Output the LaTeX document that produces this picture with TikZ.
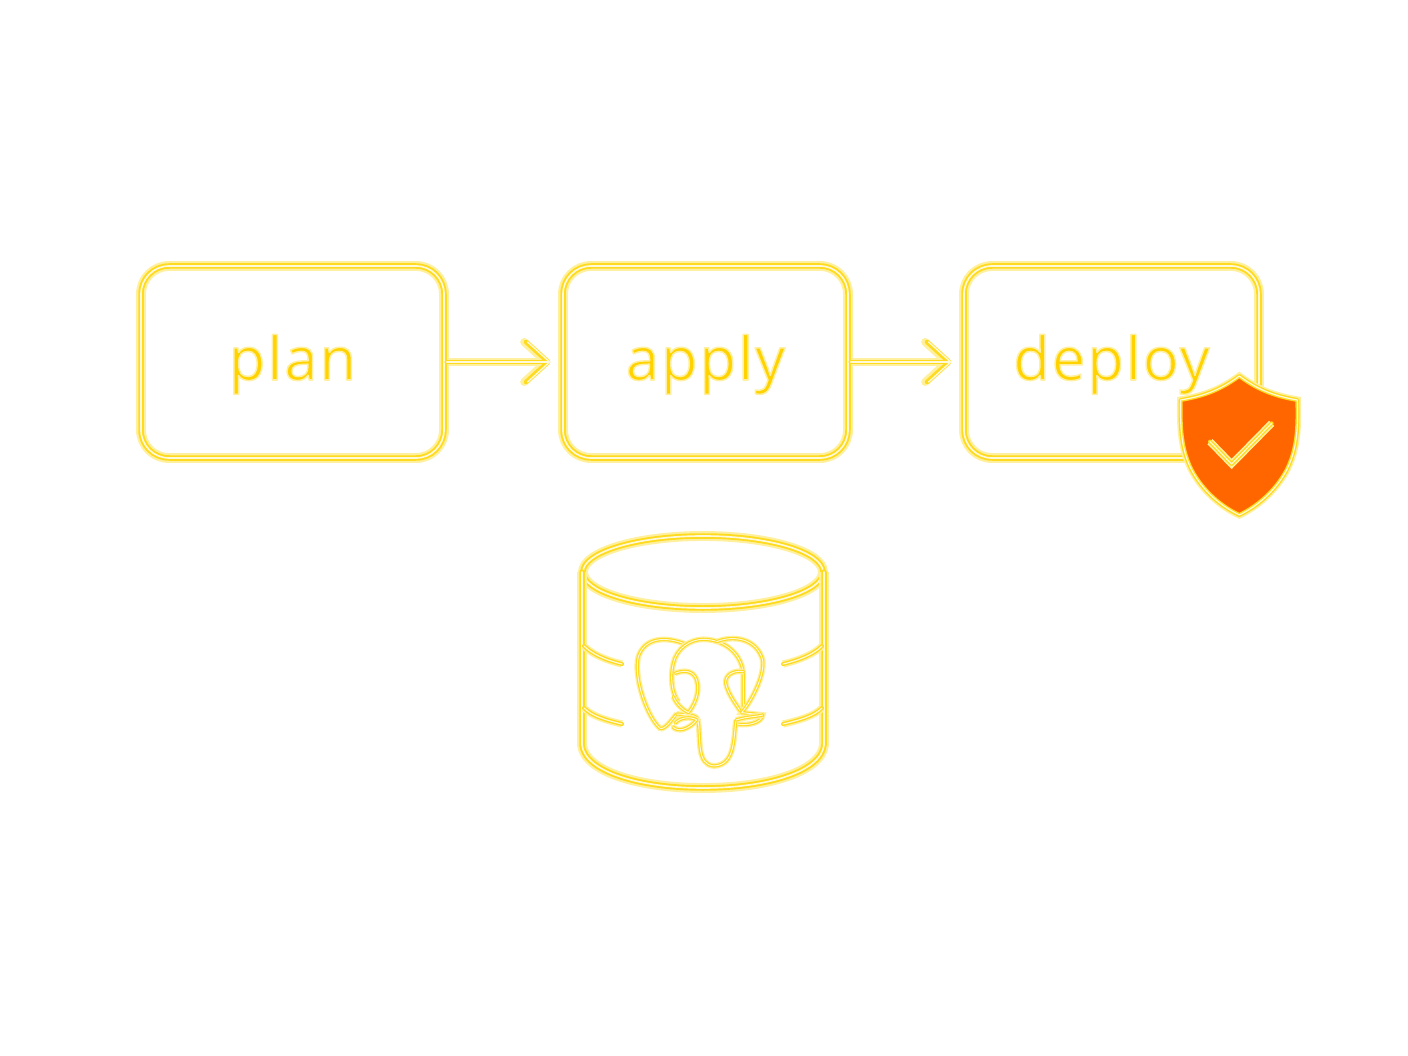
\documentclass[tikz,border=0pt]{standalone}
\usepackage{fontspec}
\setmainfont[LetterSpace=3]{Open Sans}
\usetikzlibrary{arrows.meta,positioning}
\definecolor{neonGold}{HTML}{FFDB1F}
\definecolor{neonPale}{HTML}{FFF0A0}
\definecolor{neonCore}{HTML}{FFF9DC}
\definecolor{shieldOrange}{HTML}{FF6600}
\definecolor{textGold}{HTML}{FFD200}
\newcommand{\glowtext}[1]{\color{textGold}\special{pdf:code 2 Tr 1.5 w 1 0.94 0.63 RG}#1\special{pdf:code 0 Tr}}
\tikzset{
  neon/.style={draw=neonGold,line width=#1,line cap=round,line join=round,
    preaction={draw=neonPale,line width=#1*1.8},
    postaction={draw=neonCore,line width=#1*0.3}},
  neon/.default=5.5pt,
  stagebox/.style={neon,rounded corners=28pt,minimum height=192pt,
    text height=46pt,text depth=10pt,inner sep=0pt,font=\fontsize{60pt}{62pt}\selectfont},
  flowarrow/.style={neon=4.5pt,-{Straight Barb[length=22pt,width=40pt,round]},shorten >=10pt},
  trunkline/.style={neon=3.2pt},
  thinline/.style={neon=4pt},
}
\begin{document}
\begin{tikzpicture}[x=1pt,y=-1pt]
  \useasboundingbox (0,0) rectangle (1408,1056);
  %stages
  \node[stagebox,minimum width=303pt] (plan) at (292.5,362) {\glowtext{plan}};
  \node[stagebox,minimum width=285pt] (apply) at (705.5,362) {\glowtext{apply}};
  \node[stagebox,minimum width=295pt] (deploy) at (1111.5,362) {\glowtext{deploy}};

  \draw[flowarrow] (plan) -- (apply);

  \draw[flowarrow] (apply) -- (deploy);

  %shield
  \begin{scope}[shift={(950,250)},x=0.3333pt,y=-0.3333pt]
    \draw[thinline,fill=shieldOrange] (868,378) .. controls (930,425) and (985,440) .. (1042,450)
      .. controls (1045,540) and (1040,600) .. (1010,660)
      .. controls (975,725) and (920,770) .. (868,795)
      .. controls (815,770) and (760,725) .. (725,660)
      .. controls (695,600) and (690,540) .. (692,450)
      .. controls (750,440) and (805,425) .. (868,378) -- cycle;
    \draw[thinline] (780,575) -- (845,642) -- (965,520);
  \end{scope}

  %cylinder
  \draw[neon] (703,572) ellipse (120 and 36);
  \draw[neon] (582,572) -- (582,745) .. controls (585,772) and (640,788) .. (703,788)
    .. controls (766,788) and (821,772) .. (824,745) -- (824,572);
  \draw[thinline] (584,646) .. controls (592,654) and (605,660) .. (622,664);
  \draw[thinline] (584,708) .. controls (592,716) and (605,720) .. (622,724);
  \draw[thinline] (822,646) .. controls (814,654) and (800,660) .. (783,664);
  \draw[thinline] (822,708) .. controls (814,716) and (800,720) .. (783,724);

  %elephant
  \begin{scope}[shift={(560,520)},x=0.3333pt,y=-0.3333pt]
    \draw[trunkline] (375,372) .. controls (320,350) and (255,350) .. (235,410)
      .. controls (220,470) and (260,590) .. (300,625)
      .. controls (315,630) and (335,600) .. (350,582);
    \draw[trunkline] (355,545) .. controls (335,520) and (330,470) .. (340,430)
      .. controls (350,385) and (390,358) .. (430,358)
      .. controls (490,358) and (550,400) .. (550,470) -- (550,570);
    \draw[trunkline] (470,365) .. controls (520,345) and (590,355) .. (608,420)
      .. controls (615,470) and (570,550) .. (545,578) -- (608,585)
      .. controls (605,610) and (560,618) .. (528,612);
    \draw[trunkline] (528,600) .. controls (520,660) and (525,735) .. (462,738)
      .. controls (410,735) and (422,660) .. (415,605)
      .. controls (412,585) and (395,585) .. (350,582);
    \draw[trunkline] (345,460) .. controls (370,450) and (400,450) .. (410,480)
      .. controls (422,520) and (400,560) .. (385,578)
      .. controls (370,570) and (350,555) .. (340,530);
    \draw[trunkline] (550,455) .. controls (520,450) and (495,465) .. (497,490)
      .. controls (505,525) and (530,555) .. (540,572);
    \draw[trunkline] (345,610) .. controls (360,590) and (395,590) .. (410,600)
      .. controls (390,625) and (355,640) .. (338,620);
    \draw[trunkline] (528,600) .. controls (560,590) and (590,590) .. (608,585);
  \end{scope}
\end{tikzpicture}
\end{document}
